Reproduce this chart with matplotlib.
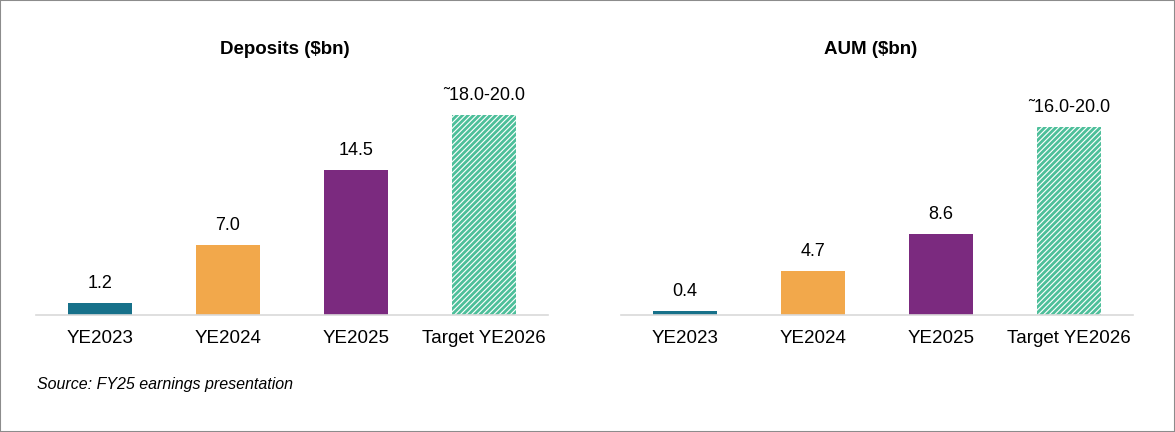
import matplotlib
matplotlib.use("Agg")
import matplotlib.pyplot as plt
from matplotlib.patches import Rectangle

plt.rcParams["font.family"] = ["Liberation Sans", "DejaVu Sans"]
plt.rcParams["hatch.linewidth"] = 2.0

CATEGORIES = ["YE2023", "YE2024", "YE2025", "Target YE2026"]
DEPOSITS = [1.2, 7.0, 14.5, 20.0]
DEPOSIT_LABELS = ["1.2", "7.0", "14.5", "\u02dc18.0-20.0"]
AUM = [0.4, 4.7, 8.6, 20.0]
AUM_LABELS = ["0.4", "4.7", "8.6", "\u02dc16.0-20.0"]

COLORS = ["#17718A", "#F2A84B", "#7B2A7F"]
TARGET_GREEN = "#4DBF9A"
BASELINE = "#D9D9D9"

fig = plt.figure(figsize=(11.75, 4.32), dpi=100)

W, H = 1175, 432


def panel(left_px, right_px, top_px, values, labels, title, title_x):
    base_px = 315
    ax = fig.add_axes([left_px / W, (H - base_px) / H,
                       (right_px - left_px) / W, (base_px - top_px) / H])
    x = range(len(CATEGORIES))
    for i, v in enumerate(values):
        if i < 3:
            ax.bar(i, v, width=0.5, color=COLORS[i], linewidth=0)
        else:
            ax.bar(i, v, width=0.5, facecolor="white", edgecolor=TARGET_GREEN,
                   hatch="//////", linewidth=0)
        ax.annotate(labels[i], (i, v), xytext=(0, 8), textcoords="offset points",
                    ha="center", va="bottom", fontsize=13, color="black")
    ax.set_xlim(-0.5, 3.5)
    ax.set_ylim(0, 20)
    ax.set_xticks(list(x))
    ax.set_xticklabels(CATEGORIES, fontsize=13.5)
    ax.tick_params(axis="x", length=0, pad=11)
    ax.set_yticks([])
    for s in ["top", "right", "left"]:
        ax.spines[s].set_visible(False)
    ax.spines["bottom"].set_color(BASELINE)
    ax.spines["bottom"].set_linewidth(1.2)
    ax.patch.set_alpha(0)
    fig.text(title_x / W, (H - 50) / H, title, ha="center", va="center",
             fontsize=13.5, fontweight="bold")
    return ax


panel(36, 548, 115, DEPOSITS, DEPOSIT_LABELS, "Deposits (\\$bn)", 285)
panel(621, 1133, 127, AUM, AUM_LABELS, "AUM (\\$bn)", 871)

fig.text(37 / W, (H - 384) / H, "Source: FY25 earnings presentation",
         ha="left", va="center", fontsize=11.5, style="italic")

fig.patches.append(Rectangle((0, 0), 1, 1, transform=fig.transFigure,
                             fill=False, edgecolor="#8C8C8C", linewidth=1.5))

fig.savefig("out.png", dpi=100)
